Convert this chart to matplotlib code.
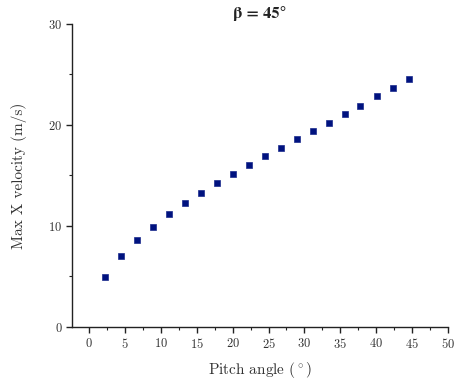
import matplotlib
matplotlib.use("Agg")
import matplotlib.pyplot as plt
from matplotlib.ticker import MultipleLocator

plt.rcParams["font.family"] = "serif"
plt.rcParams["font.serif"] = ["cmr10", "DejaVu Serif"]
plt.rcParams["mathtext.fontset"] = "cm"
plt.rcParams["axes.formatter.use_mathtext"] = True

pitch_angle = [2.2, 4.4, 6.7, 8.9, 11.1, 13.4, 15.6, 17.8, 20.0, 22.3,
               24.5, 26.7, 28.9, 31.2, 33.4, 35.6, 37.8, 40.1, 42.3, 44.5]
max_x_velocity = [4.98, 7.03, 8.61, 9.93, 11.16, 12.25, 13.27, 14.23, 15.15, 16.01,
                  16.93, 17.72, 18.58, 19.41, 20.20, 21.12, 21.88, 22.87, 23.66, 24.58]

fig = plt.figure(figsize=(4.54, 3.79), dpi=100)
ax = fig.add_axes([0.1586, 0.1372, 0.8282, 0.7995])

ax.plot(pitch_angle, max_x_velocity, linestyle="none", marker="s",
        markersize=5, color="#00127f", markeredgecolor="#1a2a8c", markeredgewidth=0.5)

ax.set_xlim(-2.37, 50)
ax.set_ylim(0, 30)
ax.xaxis.set_major_locator(MultipleLocator(5))
ax.xaxis.set_minor_locator(MultipleLocator(2.5))
ax.yaxis.set_major_locator(MultipleLocator(10))
ax.yaxis.set_minor_locator(MultipleLocator(5))

for side in ("top", "right"):
    ax.spines[side].set_visible(False)
for side in ("left", "bottom"):
    ax.spines[side].set_linewidth(1.0)
    ax.spines[side].set_color("#222222")

ax.tick_params(which="major", direction="out", length=4, width=1.0,
               colors="#222222", labelsize=9, labelcolor="#333333", pad=3)
ax.tick_params(which="minor", direction="out", length=2.5, width=0.8, colors="#222222")

ax.set_xlabel(r"Pitch angle ($^\circ$)", fontsize=11, color="#333333", labelpad=7)
ax.set_ylabel("Max X velocity (m/s)", fontsize=11, color="#333333", labelpad=15)
ax.set_title("β = 45°", fontsize=12, family="STIXGeneral", fontweight="bold",
             color="#222222", pad=4)

fig.savefig("out.png", dpi=100)
